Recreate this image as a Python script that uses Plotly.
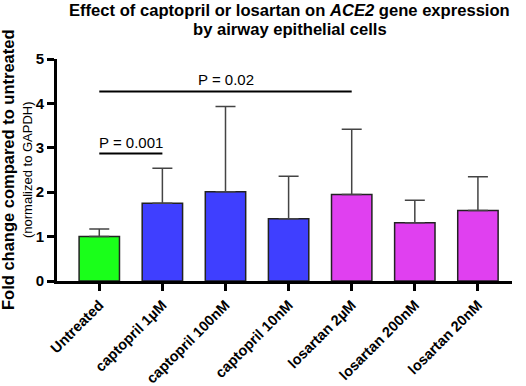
import plotly.graph_objects as go

categories = ["Untreated", "captopril 1µM", "captopril 100nM", "captopril 10nM",
              "losartan 2µM", "losartan 200nM", "losartan 20nM"]
means = [1.00, 1.75, 2.01, 1.40, 1.95, 1.31, 1.59]
upper = [1.17, 2.54, 3.93, 2.36, 3.42, 1.82, 2.35]
colors = ["#1aff1a", "#3f3fff", "#3f3fff", "#3f3fff", "#e040f0", "#e040f0", "#e040f0"]
y_ticks = [0, 1, 2, 3, 4, 5]

# significance comparisons: (from index, to index, label, bar height)
comparisons = [(0, 1, "P = 0.001", 2.87), (0, 4, "P = 0.02", 4.27)]

title_lines = ["<b>Effect of captopril or losartan on <i>ACE2</i> gene expression</b>",
               "<b>by airway epithelial cells</b>"]
ytitle_main = "<b>Fold change compared to untreated</b>"
ytitle_sub = "(normalized to GAPDH)"

FONT = "Liberation Sans, Arial, sans-serif"
err_plus = [u - m for u, m in zip(upper, means)]

fig = go.Figure()
fig.add_trace(go.Bar(
    x=list(range(len(categories))), y=means,
    marker=dict(color=colors, line=dict(color="#222222", width=1.5)),
    width=0.64,
    error_y=dict(type="data", symmetric=False, array=err_plus,
                 arrayminus=[0] * len(means), color="#444444",
                 thickness=1.5, width=10),
))

for i0, i1, label, h in comparisons:
    fig.add_shape(type="line", xref="x", yref="y", x0=i0, x1=i1, y0=h, y1=h,
                  line=dict(color="black", width=2))
    fig.add_annotation(x=(i0 + i1) / 2, y=h, xref="x", yref="y", text=label,
                       showarrow=False, yanchor="bottom", yshift=1,
                       font=dict(size=15, color="black", family=FONT))

# title lines
fig.add_annotation(text=title_lines[0], xref="paper", yref="paper", x=0.512, y=1,
                   xanchor="center", yanchor="middle", yshift=49, showarrow=False,
                   font=dict(size=16.6, color="black", family=FONT))
fig.add_annotation(text=title_lines[1], xref="paper", yref="paper", x=0.512, y=1,
                   xanchor="center", yanchor="middle", yshift=30, showarrow=False,
                   font=dict(size=16.6, color="black", family=FONT))
# y-axis title lines
fig.add_annotation(text=ytitle_main, xref="paper", yref="paper", x=0, y=0.5,
                   xanchor="center", yanchor="middle", xshift=-49, textangle=-90,
                   showarrow=False, font=dict(size=16.5, color="black", family=FONT))
fig.add_annotation(text=ytitle_sub, xref="paper", yref="paper", x=0, y=0.5,
                   xanchor="center", yanchor="middle", xshift=-30, textangle=-90,
                   showarrow=False, font=dict(size=13, color="black", family=FONT))

fig.update_layout(
    width=526, height=386,
    margin=dict(l=57, r=14, t=59, b=105),
    plot_bgcolor="white", paper_bgcolor="white",
    showlegend=False,
    font=dict(family=FONT, color="black"),
    xaxis=dict(
        range=[-0.67, 6.54], automargin=False,
        tickmode="array", tickvals=list(range(len(categories))),
        ticktext=[f"<b>{c}</b>" for c in categories],
        tickangle=-45, tickfont=dict(size=14.5, color="black"),
        showline=True, linecolor="black", linewidth=3,
        ticks="outside", ticklen=7, tickwidth=3, tickcolor="black",
        showgrid=False, zeroline=False,
    ),
    yaxis=dict(
        range=[0, 5], automargin=False,
        tickmode="array", tickvals=y_ticks,
        ticktext=[f"<b>{t}</b>" for t in y_ticks],
        tickfont=dict(size=15, color="black"),
        showline=True, linecolor="black", linewidth=3,
        ticks="outside", ticklen=7, tickwidth=3, tickcolor="black",
        showgrid=False, zeroline=False,
    ),
)

# remove the default 8px page margin so the figure fills the window exactly
fig.write_html("out.html", config={"displayModeBar": False},
               post_script="document.body.style.margin='0';")
